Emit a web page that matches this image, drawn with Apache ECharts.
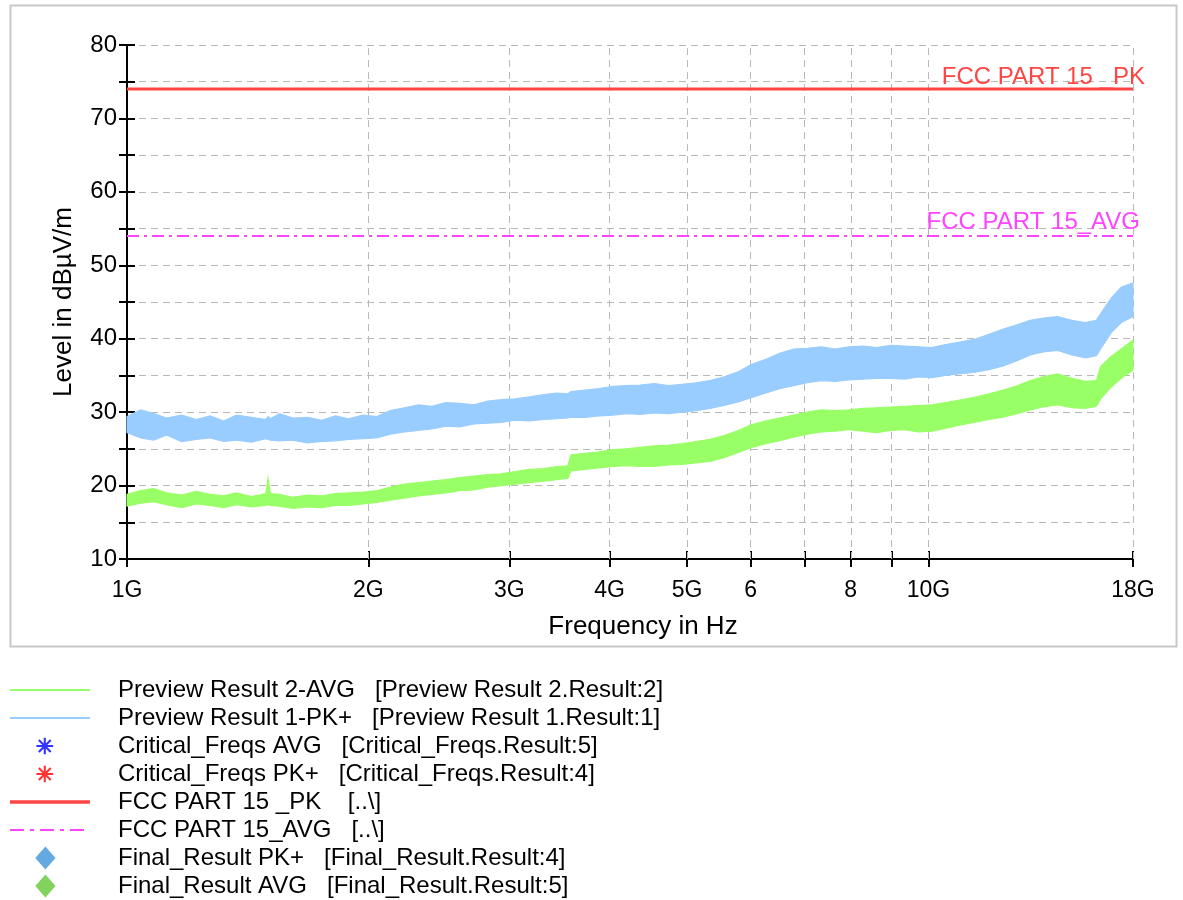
<!DOCTYPE html>
<html><head><meta charset="utf-8">
<script src="https://cdn.jsdelivr.net/npm/echarts@6/dist/echarts.min.js"></script>
<style>html,body{margin:0;padding:0;background:#fff;}#c{width:1183px;height:900px;}</style>
</head><body><div id="c"></div>
<script>
// ---- data (frequency in GHz, level in dBµV/m) ----
const freqGHz = [1.00,1.04,1.08,1.12,1.17,1.22,1.27,1.32,1.37,1.43,1.49,1.50,1.51,1.55,1.61,1.68,1.75,1.82,1.89,1.97,
  2.05,2.13,2.22,2.31,2.40,2.50,2.60,2.71,2.82,2.93,3.05,3.18,3.31,3.44,3.55,3.58,3.73,3.88,4.04,4.20,
  4.37,4.55,4.74,4.93,5.13,5.34,5.56,5.79,6.02,6.27,6.52,6.79,7.06,7.35,7.65,7.96,8.29,8.62,8.97,9.34,
  9.72,10.1,10.5,10.9,11.4,11.9,12.4,12.9,13.4,13.9,14.5,15.1,15.7,16.2,16.4,16.9,17.4,18.0];
const pkHi = [29.4,30.3,29.8,29.2,29.6,29.0,29.5,28.8,29.6,29.3,29.0,29.4,29.1,29.8,29.2,29.3,28.9,29.5,29.1,29.6,
  29.4,30.2,30.6,31.0,30.8,31.3,31.2,31.0,31.5,31.7,31.8,32.1,32.4,32.6,32.5,32.8,33.0,33.2,33.5,33.6,
  33.7,33.9,33.6,33.8,34.0,34.3,34.8,35.5,36.5,37.2,38.0,38.6,38.7,38.9,38.6,38.9,39.0,38.8,39.1,39.0,
  38.9,38.8,39.2,39.5,39.9,40.6,41.3,41.9,42.5,42.8,43.0,42.5,42.2,42.5,43.4,45.5,47.0,47.6];
const pkLo = [27.2,26.5,26.2,26.9,26.0,26.3,26.5,26.0,26.2,25.9,26.4,26.3,26.2,26.1,26.2,25.8,26.0,26.1,26.3,26.4,
  26.5,27.0,27.3,27.5,27.7,28.1,28.0,28.4,28.5,28.6,28.9,28.8,29.0,29.1,29.2,29.3,29.3,29.5,29.6,29.8,
  29.7,29.9,29.8,30.0,30.2,30.5,30.9,31.4,32.0,32.6,33.2,33.6,34.0,34.3,34.2,34.4,34.5,34.6,34.6,34.5,
  34.8,34.7,35.0,35.2,35.4,35.8,36.3,37.0,37.8,38.2,38.4,37.8,37.4,37.7,38.6,40.8,42.2,43.0];
const avgHi = [18.8,19.3,19.6,19.0,18.7,19.2,18.8,18.6,19.0,18.5,18.9,21.0,18.9,18.8,18.4,18.7,18.6,18.9,19.0,19.1,
  19.3,19.8,20.2,20.4,20.6,20.8,21.1,21.3,21.5,21.6,21.9,22.2,22.3,22.6,22.7,24.2,24.4,24.6,24.9,25.0,
  25.2,25.4,25.5,25.7,26.0,26.3,26.8,27.5,28.3,28.8,29.2,29.6,30.0,30.3,30.2,30.3,30.5,30.6,30.7,30.8,
  30.9,31.0,31.3,31.6,32.0,32.5,33.0,33.6,34.3,34.8,35.2,34.6,34.2,34.3,36.2,37.6,38.6,39.8];
const avgLo = [17.2,17.6,17.8,17.4,17.0,17.5,17.3,17.0,17.4,17.1,17.3,17.4,17.3,17.2,16.9,17.1,17.0,17.3,17.3,17.5,
  17.7,18.0,18.3,18.6,18.8,19.0,19.3,19.4,19.8,20.0,20.2,20.4,20.6,20.8,21.0,22.0,22.2,22.4,22.6,22.7,
  22.6,22.6,22.8,22.9,23.1,23.3,23.8,24.5,25.2,25.7,26.1,26.6,27.0,27.3,27.4,27.6,27.4,27.2,27.5,27.6,
  27.3,27.4,27.8,28.2,28.6,29.0,29.3,29.8,30.3,30.7,31.0,30.6,30.5,30.8,31.8,33.4,34.6,35.7];
const limitFreq = [1, 18];
const limitPK = [74, 74];
const limitAVG = [54, 54];
const xTickValues = [1,2,3,4,5,6,7,8,9,10,18];
const xLabelValues = [1,2,3,4,5,6,8,10,18];
const xLabelTexts = ['1G','2G','3G','4G','5G','6','8','10G','18G'];
const xGridValues = [2,3,4,5,6,7,8,9,10,18];
const seriesNames = [
  'Preview Result 2-AVG   [Preview Result 2.Result:2]',
  'Preview Result 1-PK+   [Preview Result 1.Result:1]',
  'Critical_Freqs AVG   [Critical_Freqs.Result:5]',
  'Critical_Freqs PK+   [Critical_Freqs.Result:4]',
  'FCC PART 15 _PK    [..\\]',
  'FCC PART 15_AVG   [..\\]',
  'Final_Result PK+   [Final_Result.Result:4]',
  'Final_Result AVG   [Final_Result.Result:5]'
];
const limitLabels = ['FCC PART 15 _PK', 'FCC PART 15_AVG'];

// ---- styling ----
const FONT = "'Liberation Sans', Arial, sans-serif";
const C_GREEN = '#99ff66', C_BLUE = '#99ccff', C_RED = '#ff4444', C_MAG = '#ff44ff';
const GRID_COLOR = '#b8b8b8';
const ICON_ASTERISK = 'path://M0,0L0.1,0L0,0.1Z M32,22L31.9,22L32,21.9Z M10,3L12,3L12,19L10,19Z M3,10L19,10L19,12L3,12Z M4.6,6L6,4.6L17.4,16L16,17.4Z M16,4.6L17.4,6L6,17.4L4.6,16Z';
const ICON_LINE = 'path://M0,0L80,0L80,2L0,2Z';
const ICON_THICK = 'path://M0,0L80,0L80,3.5L0,3.5Z';
const ICON_DASHDOT = 'path://M0,0L14,0L14,2L0,2Z M20,0L24,0L24,2L20,2Z M30,0L44,0L44,2L30,2Z M50,0L54,0L54,2L50,2Z M60,0L74,0L74,2L60,2Z M79.9,0L80,0L80,2Z';
const ICON_DIAMOND = 'path://M11,0L22,12.5L11,25L0,12.5Z M32,0L31.9,0L32,0.1Z';

const zip = (xs, ys) => xs.map((x, i) => [x, ys[i]]);
const labelFor = v => {
  const i = xLabelValues.findIndex(t => Math.abs(t - v) < 1e-6);
  return i >= 0 ? xLabelTexts[i] : '';
};

function limitData(vals, label, color, size, offset) {
  const d = zip(limitFreq, vals);
  const last = d.length - 1;
  d[last] = {
    value: d[last], symbol: 'circle', symbolSize: 1,
    itemStyle: { color: 'rgba(0,0,0,0)' },
    label: { show: true, formatter: label, position: 'top', align: 'right', verticalAlign: 'bottom',
      distance: 1, offset: offset, color: color, fontSize: size, fontFamily: FONT }
  };
  return d;
}

function bandSeries(name, hi, lo, color) {
  return {
    name: name, type: 'custom', coordinateSystem: 'cartesian2d', silent: true, z: 3,
    data: [[freqGHz[0], lo[0]]], encode: { x: 0, y: 1 },
    itemStyle: { color: color },
    renderItem: function (params, api) {
      const pts = [];
      for (let i = 0; i < freqGHz.length; i++) pts.push(api.coord([freqGHz[i], hi[i]]));
      for (let i = freqGHz.length - 1; i >= 0; i--) pts.push(api.coord([freqGHz[i], lo[i]]));
      return { type: 'polygon', shape: { points: pts }, style: { fill: color, stroke: color, lineWidth: 1.2 } };
    }
  };
}

const chart = echarts.init(document.getElementById('c'));
const option = {
  animation: false,
  backgroundColor: '#fff',
  grid: { left: 127, right: 50, top: 45, bottom: 341, containLabel: false, outerBoundsMode: 'none' },
  graphic: [{ type: 'rect', left: 8, top: 3, z: -10, silent: true,
    shape: { width: 1166, height: 641 }, style: { fill: 'none', stroke: '#c8c8c8', lineWidth: 2 } }],
  legend: {
    show: true, orient: 'vertical', left: 10, top: 678, padding: 0, selectedMode: false,
    itemWidth: 80, itemHeight: 23, itemGap: 4, symbolKeepAspect: true,
    textStyle: { fontSize: 24, lineHeight: 24, color: '#000', fontFamily: FONT, padding: [0, 0, 0, 23] },
    data: [
      { name: seriesNames[0], icon: ICON_LINE }, { name: seriesNames[1], icon: ICON_LINE },
      { name: seriesNames[2], icon: ICON_ASTERISK }, { name: seriesNames[3], icon: ICON_ASTERISK },
      { name: seriesNames[4], icon: ICON_THICK }, { name: seriesNames[5], icon: ICON_DASHDOT },
      { name: seriesNames[6], icon: ICON_DIAMOND }, { name: seriesNames[7], icon: ICON_DIAMOND }
    ]
  },
  xAxis: [{
    type: 'log', logBase: 10, min: 1, max: 18, position: 'bottom',
    axisLine: { show: true, onZero: false, lineStyle: { color: '#000', width: 2 } },
    axisTick: { show: true, inside: false, length: 8, lineStyle: { color: '#000', width: 2 }, customValues: xTickValues },
    axisLabel: { show: true, customValues: xLabelValues, formatter: labelFor, margin: 20,
      fontSize: 23, color: '#000', fontFamily: FONT },
    minorTick: { show: false }, splitLine: { show: false },
    name: 'Frequency in Hz', nameLocation: 'middle', nameGap: 55,
    nameTextStyle: { fontSize: 26, color: '#000', fontFamily: FONT, padding: [0, 0, 0, 26] }
  }, {
    type: 'log', logBase: 10, min: 1, max: 18, position: 'bottom',
    axisLine: { show: false },
    axisTick: { show: true, inside: true, length: 8, lineStyle: { color: '#000', width: 2 }, customValues: xTickValues },
    axisLabel: { show: false }, minorTick: { show: false }, splitLine: { show: false }
  }],
  yAxis: [{
    type: 'value', min: 10, max: 80, interval: 5,
    axisLine: { show: true, onZero: false, lineStyle: { color: '#000', width: 2 } },
    axisTick: { show: true, inside: false, length: 8, lineStyle: { color: '#000', width: 2 } },
    axisLabel: { formatter: v => (v % 10 === 0 ? String(v) : ''), margin: 10, fontSize: 24, color: '#000', fontFamily: FONT },
    splitLine: { show: true, lineStyle: { type: [7, 5], color: GRID_COLOR, width: 1 } },
    name: 'Level in dBµV/m', nameLocation: 'middle', nameGap: 50, nameRotate: 90,
    nameTextStyle: { fontSize: 26, color: '#000', fontFamily: FONT }
  }, {
    type: 'value', min: 10, max: 80, interval: 5, position: 'left',
    axisLine: { show: false },
    axisTick: { show: true, inside: true, length: 8, lineStyle: { color: '#000', width: 2 } },
    axisLabel: { show: false }, splitLine: { show: false }
  }],
  series: [
    bandSeries(seriesNames[0], avgHi, avgLo, C_GREEN),
    bandSeries(seriesNames[1], pkHi, pkLo, C_BLUE),
    { name: seriesNames[2], type: 'scatter', data: [], symbol: ICON_ASTERISK, symbolSize: 16, itemStyle: { color: '#0000ff' } },
    { name: seriesNames[3], type: 'scatter', data: [], symbol: ICON_ASTERISK, symbolSize: 16, itemStyle: { color: '#ff0000' } },
    { name: seriesNames[4], type: 'line', data: limitData(limitPK, limitLabels[0], C_RED, 24, [12, 2]), symbol: 'none', z: 4,
      lineStyle: { color: C_RED, width: 3 }, itemStyle: { color: C_RED },
      markLine: { silent: true, z: 1, symbol: ['none', 'none'], label: { show: false }, animation: false,
        lineStyle: { type: [7, 5], color: GRID_COLOR, width: 1 },
        data: xGridValues.map(v => ({ xAxis: v })) } },
    { name: seriesNames[5], type: 'line', data: limitData(limitAVG, limitLabels[1], C_MAG, 24, [7, 0]), symbol: 'none', z: 4,
      lineStyle: { color: C_MAG, width: 2, type: [12, 5, 3, 5] }, itemStyle: { color: C_MAG } },
    { name: seriesNames[6], type: 'scatter', data: [], symbol: 'diamond', symbolSize: 20, itemStyle: { color: '#3f94da' } },
    { name: seriesNames[7], type: 'scatter', data: [], symbol: 'diamond', symbolSize: 20, itemStyle: { color: '#63c834' } }
  ]
};
chart.setOption(option);
</script></body></html>
